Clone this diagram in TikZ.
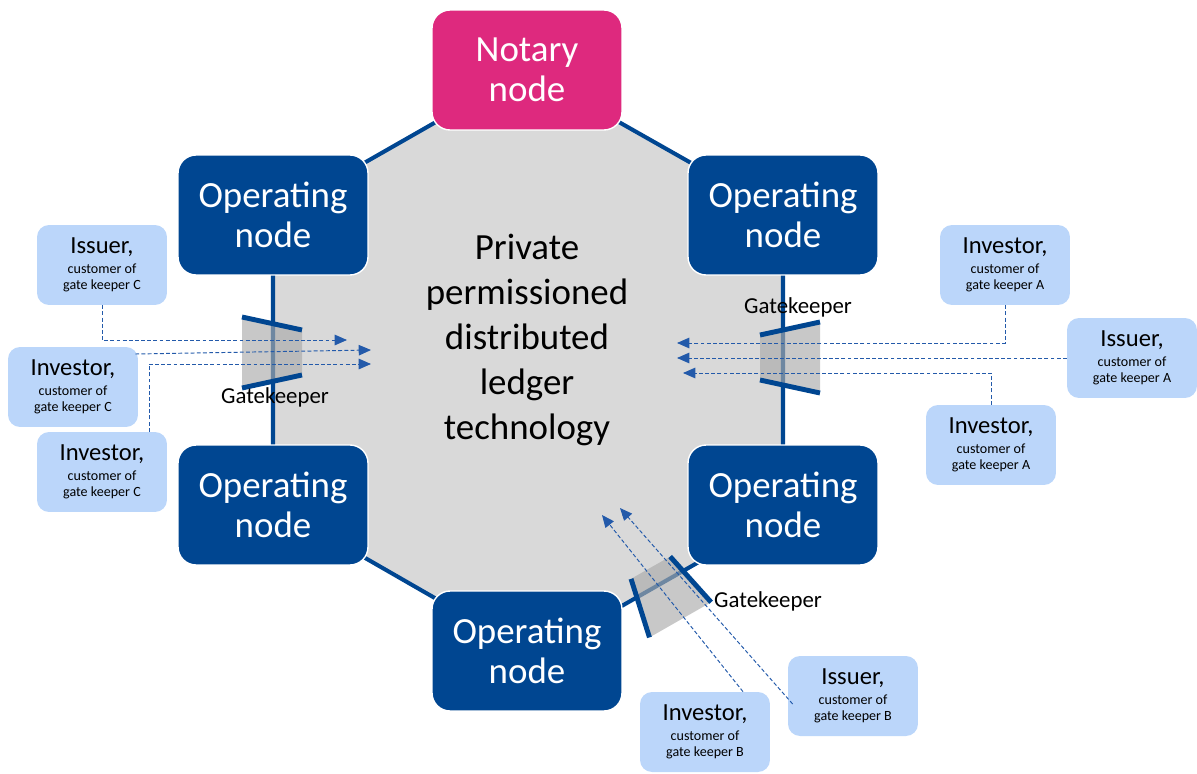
\documentclass[tikz,border=0pt]{standalone}
\usepackage{fontspec}
\setmainfont{Carlito}
\usetikzlibrary{arrows.meta,
                calc,
                backgrounds}
\definecolor{opblue}{RGB}{0,70,145}
\definecolor{notarypink}{RGB}{222,41,126}
\definecolor{custblue}{RGB}{187,214,250}
\definecolor{ledgergray}{RGB}{217,217,217}
\definecolor{arrowblue}{RGB}{35,90,170}
\definecolor{gategray}{RGB}{170,170,170}
\tikzset{gatekeeper/.pic={
  \fill[gategray,opacity=0.65] (-30,-33) -- (30,-21) -- (30,22) -- (-30,34) -- cycle;
  \draw[opblue,line width=2.8pt] (-30,-35) -- (30,-22);
  \draw[opblue,line width=2.8pt] (-30,36) -- (30,23);
}}

\begin{document}
\begin{tikzpicture}[x=0.02cm,y=-0.02cm]

\tikzstyle{bignode}=[rectangle, rounded corners=0.36cm, draw=white, line width=0.8pt, minimum width=3.8cm, minimum height=2.4cm, align=center, text=white, font=\fontsize{21}{23}\selectfont]
\tikzstyle{opnode}=[bignode, fill=opblue]
\tikzstyle{notarynode}=[bignode, fill=notarypink]
\tikzstyle{custbox}=[rectangle, rounded corners=0.24cm, fill=custblue, minimum width=2.6cm, minimum height=1.6cm, align=center, font=\fontsize{8}{9.5}\selectfont]
\tikzstyle{edge}=[opblue, line width=2.3pt]
\tikzstyle{dasharrow}=[arrowblue, line width=0.55pt, dash pattern=on 2.2pt off 1.3pt, -{Triangle[length=7pt,width=6pt]}]
\tikzstyle{gatelabel}=[font=\fontsize{13}{15}\selectfont]

\useasboundingbox (0,0) rectangle (1197,774);

% ledger nodes
\node (notary) [notarynode] at (527,70)  {Notary\\node};
\node (opTL)   [opnode]     at (273,215) {Operating\\node};
\node (opTR)   [opnode]     at (783,215) {Operating\\node};
\node (opBL)   [opnode]     at (273,505) {Operating\\node};
\node (opBR)   [opnode]     at (783,505) {Operating\\node};
\node (opB)    [opnode]     at (527,651) {Operating\\node};

\begin{scope}[on background layer]
\fill[ledgergray] (notary.center) -- (opTR.center) -- (opBR.center) -- ($(opBR.center)+(0,9)$) -- ($(opB.center)+(0,9)$) -- (opB.center) -- (opBL.center) -- (opTL.center) -- cycle;
\draw[edge] (notary.center) -- (opTL.center) -- (opBL.center) -- (opB.center);
\draw[edge] (notary.center) -- (opTR.center) -- (opBR.center);
\draw[edge] ($(opB.center)+(0,9)$) -- ($(opBR.center)+(0,9)$);
\end{scope}

\node (dlt) [font=\fontsize{21}{25.6}\selectfont, align=center] at (527,340) {Private\\permissioned\\distributed\\ledger\\technology};

% customers
\node (issC)  [custbox] at (102,265)  {{\fontsize{14}{16}\selectfont Issuer,}\\[1.5pt]customer of\\gate keeper C};
\node (invC1) [custbox] at (73,387)   {{\fontsize{14}{16}\selectfont Investor,}\\[1.5pt]customer of\\gate keeper C};
\node (invC2) [custbox] at (102,472)  {{\fontsize{14}{16}\selectfont Investor,}\\[1.5pt]customer of\\gate keeper C};
\node (invA1) [custbox] at (1005,265) {{\fontsize{14}{16}\selectfont Investor,}\\[1.5pt]customer of\\gate keeper A};
\node (issA)  [custbox] at (1132,358) {{\fontsize{14}{16}\selectfont Issuer,}\\[1.5pt]customer of\\gate keeper A};
\node (invA2) [custbox] at (991,445)  {{\fontsize{14}{16}\selectfont Investor,}\\[1.5pt]customer of\\gate keeper A};
\node (invB)  [custbox] at (705,732)  {{\fontsize{14}{16}\selectfont Investor,}\\[1.5pt]customer of\\gate keeper B};
\node (issB)  [custbox] at (853,696)  {{\fontsize{14}{16}\selectfont Issuer,}\\[1.5pt]customer of\\gate keeper B};

% gatekeepers
\pic at (272,352) {gatekeeper};
\pic[xscale=-1] at (790,357) {gatekeeper};
\pic[rotate=119.7] at (665,594) {gatekeeper};
\node (gkC) [gatelabel] at (275,397) {Gatekeeper};
\node (gkA) [gatelabel] at (798,307) {Gatekeeper};
\node (gkB) [gatelabel, anchor=west] at (708,601) {Gatekeeper};

% requests
\coordinate (tC1) at (347,340);
\coordinate (tC2) at (371,350);
\coordinate (tC3) at (371,364);
\coordinate (tA1) at (677,343);
\coordinate (tA2) at (677,358);
\coordinate (tA3) at (683,373);
\coordinate (tB1) at (602,515);
\coordinate (tB2) at (620,508);
\draw[dasharrow] (issC) |- (tC1);
\draw[dasharrow] ($(invC1.east)+(-3,-33)$) -- (tC2);
\draw[dasharrow] ($(invC2.north)+(47,0)$) |- (tC3);
\draw[dasharrow] (invA1) |- (tA1);
\draw[dasharrow] (issA) -- (tA2);
\draw[dasharrow] (invA2) |- (tA3);
\draw[dasharrow] ($(invB.north)+(38,0)$) -- (tB1);
\draw[dasharrow] ($(issB.west)+(5,8)$) -- (tB2);
\end{tikzpicture}
\end{document}
